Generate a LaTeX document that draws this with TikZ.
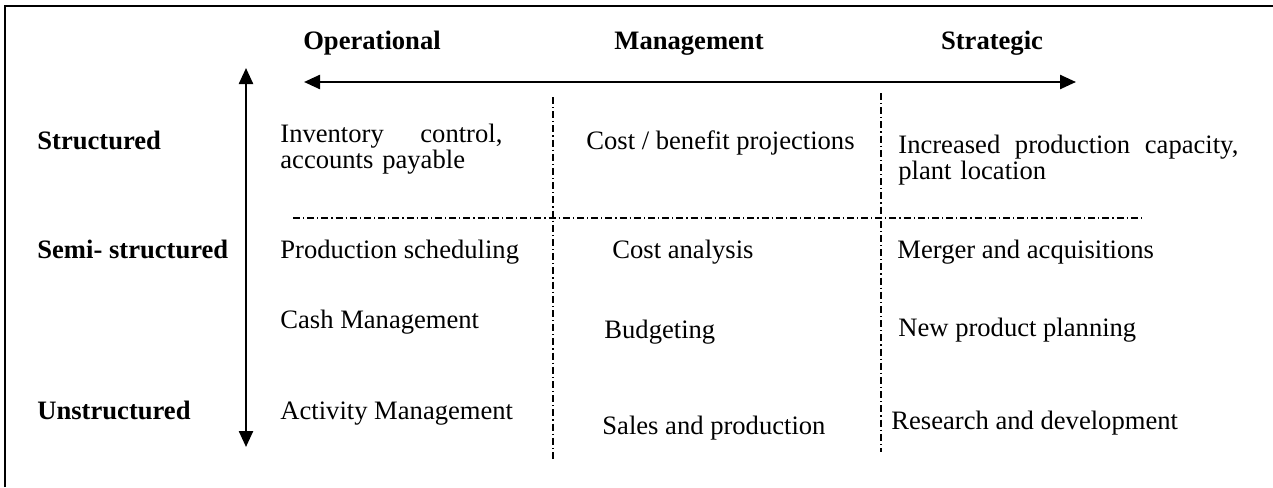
\documentclass[tikz,border=0pt]{standalone}
\usepackage{fontspec}
\setmainfont{Liberation Serif}
\usetikzlibrary{arrows.meta}
\tikzset{
  txt/.style={right, inner sep=0pt, text height=9pt, text depth=3pt, font=\fontsize{13.3}{12}\selectfont},
  txtbox/.style={right, inner sep=0pt, align=left, font=\fontsize{13.3}{12}\selectfont},
  head/.style={inner sep=0pt, text height=9pt, text depth=3pt, font=\fontsize{13.3}{12}\selectfont\bfseries},
  rowlabel/.style={txt, font=\fontsize{13.3}{12}\selectfont\bfseries},
  biarrow/.style={{Triangle[length=8pt,width=7pt]}-{Triangle[length=8pt,width=7pt]}, line width=1.2pt},
  divider/.style={line width=0.6pt, dash pattern=on 3.5pt off 1.5pt on 0.6pt off 1.5pt}
}
\begin{document}
\begin{tikzpicture}[x=0.5pt, y=-0.5pt]
        \useasboundingbox (0,0) rectangle (1273,487);
        \draw[line width=1pt] (5,487) -- (5,6) -- (1273,6);

        % levels
        \node[head] (oper) at (372,43) {Operational};
        \node[head] (mgmt) at (689,43) {Management};
        \node[head] (strat) at (992,43) {Strategic};
        \coordinate (levL) at (304,82);
        \coordinate (levR) at (1076,82);
        \draw[biarrow] (levL) -- (levR);

        % decision types
        \node[rowlabel] (struct) at (37,143) {Structured};
        \node[rowlabel] (semi) at (37,252) {Semi- structured};
        \node[rowlabel] (unstruct) at (37,413) {Unstructured};
        \coordinate (typT) at (246,68);
        \coordinate (typB) at (246,447);
        \draw[biarrow] (typT) -- (typB);

        % grid
        \coordinate (v1T) at (553,97);
        \coordinate (v1B) at (553,462);
        \coordinate (v2T) at (881,93);
        \coordinate (v2B) at (881,452);
        \coordinate (hL) at (293,218);
        \coordinate (hR) at (1144,218);
        \draw[divider] (v1T) -- (v1B);
        \draw[divider] (v2T) -- (v2B);
        \draw[divider] (hL) -- (hR);

        \node[txtbox, text width=111pt] (inv) at (280,149) {Inventory\hfill control,\\accounts payable};
        \node[txt] (cost) at (586,143) {Cost / benefit projections};
        \node[txtbox, text width=170pt] (capa) at (898,160) {Increased\hfill production\hfill capacity,\\plant location};

        \node[txt] (prod) at (280,252) {Production scheduling};
        \node[txt] (costan) at (612,252) {Cost analysis};
        \node[txt] (merger) at (897,252) {Merger and acquisitions};

        \node[txt] (cash) at (280,322) {Cash Management};
        \node[txt] (budget) at (604,332) {Budgeting};
        \node[txt] (newprod) at (898,330) {New product planning};

        \node[txt] (activ) at (280,413) {Activity Management};
        \node[txt] (sales) at (602,428) {Sales and production};
        \node[txt] (rnd) at (891,423) {Research and development};

    \end{tikzpicture}
\end{document}
